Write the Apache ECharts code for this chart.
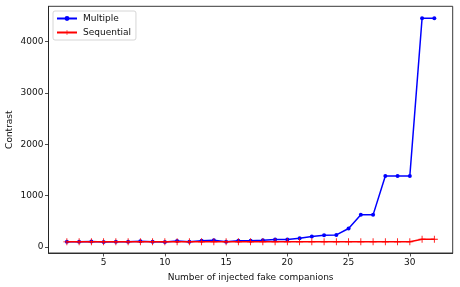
<!DOCTYPE html>
<html><head><meta charset="utf-8">
<script src="https://cdn.jsdelivr.net/npm/echarts@6/dist/echarts.min.js"></script>
<style>html,body{margin:0;padding:0;background:#fff}#c{width:460px;height:287px}</style>
</head><body><div id="c"></div>
<script>
const xValues = [2,3,4,5,6,7,8,9,10,11,12,13,14,15,16,17,18,19,20,21,22,23,24,25,26,27,28,29,30,31,32];
const multiple = [100,100,105,95,100,100,110,100,95,115,100,120,132,100,120,120,130,145,145,170,205,230,235,360,625,625,1380,1380,1380,4450,4450];
const sequential = [100,100,100,100,100,100,100,100,100,100,100,100,100,100,100,100,100,100,100,100,100,100,100,100,100,100,100,100,100,150,150];
const xTicks = [5,10,15,20,25,30];
const yTicks = [0,1000,2000,3000,4000];
const seriesNames = ['Multiple','Sequential'];
const xLabel = 'Number of injected fake companions';
const yLabel = 'Contrast';

const plus = 'path://M0,4.4H10V5.6H0Z M4.4,0H5.6V10H4.4Z';
const font = 'DejaVu Sans';
const fs = 9;
const chart = echarts.init(document.getElementById('c'), null, {renderer:'canvas'});
chart.setOption({
  animation:false,
  textStyle:{fontFamily:font},
  grid:{left:48.5,right:7.3,top:6.3,bottom:34,show:true,borderColor:'#222',borderWidth:0.9,containLabel:false,outerBoundsMode:'none'},
  legend:{
    left:53,top:11,orient:'vertical',itemGap:5,itemWidth:20,itemHeight:6,
    padding:[3,5,3,3],borderColor:'#ccc',borderWidth:0.8,borderRadius:2,backgroundColor:'rgba(255,255,255,0.8)',
    textStyle:{fontFamily:font,fontSize:fs,color:'#111',padding:[0,0,0,1]},
    data:seriesNames
  },
  xAxis:{type:'value',min:0.5,max:33.5,
    name:xLabel,nameLocation:'middle',nameGap:20,nameMoveOverlap:false,nameTextStyle:{fontFamily:font,fontSize:fs,color:'#111'},
    axisLine:{show:true,onZero:false,lineStyle:{color:'#222',width:0.9}},
    axisTick:{show:true,length:3.5,lineStyle:{color:'#222',width:0.8},customValues:xTicks},
    axisLabel:{fontFamily:font,fontSize:fs,color:'#111',margin:5,customValues:xTicks},
    splitLine:{show:false}},
  yAxis:{type:'value',min:-117,max:4683,
    name:yLabel,nameLocation:'middle',nameGap:34,nameMoveOverlap:false,nameRotate:90,nameTextStyle:{fontFamily:font,fontSize:fs,color:'#111'},
    axisLine:{show:true,onZero:false,lineStyle:{color:'#222',width:0.9}},
    axisTick:{show:true,length:3.5,lineStyle:{color:'#222',width:0.8},customValues:yTicks},
    axisLabel:{fontFamily:font,fontSize:fs,color:'#111',margin:5,customValues:yTicks,formatter:v=>String(v)},
    splitLine:{show:false}},
  series:[
    {name:seriesNames[0],type:'line',data:xValues.map((x,i)=>[x,multiple[i]]),
     symbol:'circle',symbolSize:4,color:'#0000ff',
     lineStyle:{color:'#0000ff',width:1.5},itemStyle:{color:'#0000ff'},z:2},
    {name:seriesNames[1],type:'line',data:xValues.map((x,i)=>[x,sequential[i]]),
     symbol:plus,symbolSize:7,symbolKeepAspect:true,color:'#ff0000',
     lineStyle:{color:'#ff0000',width:1.5},itemStyle:{color:'#ff0000'},z:3}
  ]
});
</script></body></html>
